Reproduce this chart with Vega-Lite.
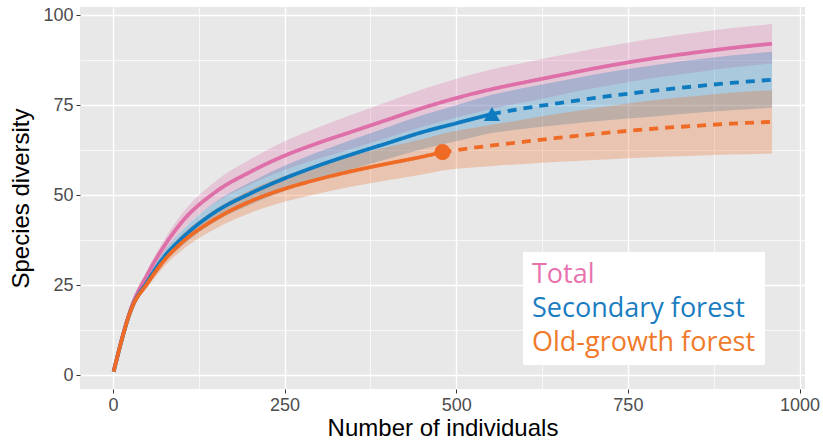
{
  "$schema": "https://vega.github.io/schema/vega-lite/v6.json",
  "width": 725,
  "height": 382,
  "autosize": {"type": "none"},
  "padding": {"left": 80, "top": 7, "right": 18, "bottom": 53},
  "background": "white",
  "config": {
    "view": {"fill": "#E8E8E8", "stroke": null},
    "font": "Liberation Sans",
    "legend": {"labelFont": "Open Sans"}
  },
  "datasets": {
    "curves": [
      {"g": "Total", "m": "obs", "x": 1, "y": 1.2, "lo": 1.2, "hi": 1.2},
      {"g": "Total", "m": "obs", "x": 27, "y": 19, "lo": 18.4, "hi": 19.6},
      {"g": "Total", "m": "obs", "x": 50, "y": 28, "lo": 26.8, "hi": 29.2},
      {"g": "Total", "m": "obs", "x": 75, "y": 36, "lo": 34.2, "hi": 37.8},
      {"g": "Total", "m": "obs", "x": 100, "y": 42.5, "lo": 40.2, "hi": 44.8},
      {"g": "Total", "m": "obs", "x": 150, "y": 51, "lo": 48, "hi": 54},
      {"g": "Total", "m": "obs", "x": 200, "y": 56.5, "lo": 53, "hi": 60},
      {"g": "Total", "m": "obs", "x": 250, "y": 61, "lo": 57, "hi": 65},
      {"g": "Total", "m": "obs", "x": 300, "y": 64.6, "lo": 60.2, "hi": 69},
      {"g": "Total", "m": "obs", "x": 350, "y": 67.8, "lo": 63.1, "hi": 72.5},
      {"g": "Total", "m": "obs", "x": 400, "y": 71, "lo": 66, "hi": 76},
      {"g": "Total", "m": "obs", "x": 450, "y": 74.2, "lo": 69, "hi": 79.4},
      {"g": "Total", "m": "obs", "x": 500, "y": 77, "lo": 71.6, "hi": 82.4},
      {"g": "Total", "m": "obs", "x": 550, "y": 79.4, "lo": 73.9, "hi": 84.9},
      {"g": "Total", "m": "obs", "x": 600, "y": 81.4, "lo": 75.9, "hi": 86.9},
      {"g": "Total", "m": "obs", "x": 650, "y": 83.3, "lo": 77.8, "hi": 88.8},
      {"g": "Total", "m": "obs", "x": 700, "y": 85.2, "lo": 79.7, "hi": 90.7},
      {"g": "Total", "m": "obs", "x": 750, "y": 86.9, "lo": 81.4, "hi": 92.4},
      {"g": "Total", "m": "obs", "x": 800, "y": 88.4, "lo": 82.9, "hi": 93.9},
      {"g": "Total", "m": "obs", "x": 850, "y": 89.7, "lo": 84.2, "hi": 95.2},
      {"g": "Total", "m": "obs", "x": 900, "y": 90.9, "lo": 85.4, "hi": 96.4},
      {"g": "Total", "m": "obs", "x": 960, "y": 92.1, "lo": 86.6, "hi": 97.6},

      {"g": "Secondary forest", "m": "obs", "x": 1, "y": 1, "lo": 1, "hi": 1},
      {"g": "Secondary forest", "m": "obs", "x": 27, "y": 18.5, "lo": 17.9, "hi": 19.1},
      {"g": "Secondary forest", "m": "obs", "x": 50, "y": 26, "lo": 24.8, "hi": 27.2},
      {"g": "Secondary forest", "m": "obs", "x": 75, "y": 33, "lo": 31.3, "hi": 34.7},
      {"g": "Secondary forest", "m": "obs", "x": 100, "y": 38, "lo": 35.9, "hi": 40.1},
      {"g": "Secondary forest", "m": "obs", "x": 150, "y": 45.5, "lo": 42.8, "hi": 48.2},
      {"g": "Secondary forest", "m": "obs", "x": 200, "y": 50.5, "lo": 47.4, "hi": 53.6},
      {"g": "Secondary forest", "m": "obs", "x": 250, "y": 54.7, "lo": 51.2, "hi": 58.2},
      {"g": "Secondary forest", "m": "obs", "x": 300, "y": 58.3, "lo": 54.5, "hi": 62.1},
      {"g": "Secondary forest", "m": "obs", "x": 350, "y": 61.5, "lo": 57.4, "hi": 65.6},
      {"g": "Secondary forest", "m": "obs", "x": 400, "y": 64.5, "lo": 60.1, "hi": 68.9},
      {"g": "Secondary forest", "m": "obs", "x": 450, "y": 67.5, "lo": 62.8, "hi": 72.2},
      {"g": "Secondary forest", "m": "obs", "x": 500, "y": 70, "lo": 65, "hi": 75},
      {"g": "Secondary forest", "m": "obs", "x": 552, "y": 72.6, "lo": 67.3, "hi": 77.9},
      {"g": "Secondary forest", "m": "ext", "x": 552, "y": 72.6, "lo": 67.3, "hi": 77.9},
      {"g": "Secondary forest", "m": "ext", "x": 600, "y": 74.2, "lo": 68.5, "hi": 79.9},
      {"g": "Secondary forest", "m": "ext", "x": 650, "y": 75.6, "lo": 69.5, "hi": 81.7},
      {"g": "Secondary forest", "m": "ext", "x": 700, "y": 77, "lo": 70.5, "hi": 83.5},
      {"g": "Secondary forest", "m": "ext", "x": 750, "y": 78.2, "lo": 71.3, "hi": 85.1},
      {"g": "Secondary forest", "m": "ext", "x": 800, "y": 79.3, "lo": 72.1, "hi": 86.5},
      {"g": "Secondary forest", "m": "ext", "x": 850, "y": 80.3, "lo": 72.9, "hi": 87.7},
      {"g": "Secondary forest", "m": "ext", "x": 900, "y": 81.2, "lo": 73.6, "hi": 88.8},
      {"g": "Secondary forest", "m": "ext", "x": 960, "y": 82.1, "lo": 74.3, "hi": 89.9},

      {"g": "Old-growth forest", "m": "obs", "x": 1, "y": 1, "lo": 1, "hi": 1},
      {"g": "Old-growth forest", "m": "obs", "x": 27, "y": 18.5, "lo": 17.9, "hi": 19.1},
      {"g": "Old-growth forest", "m": "obs", "x": 50, "y": 25.5, "lo": 24.3, "hi": 26.7},
      {"g": "Old-growth forest", "m": "obs", "x": 75, "y": 32, "lo": 30.3, "hi": 33.7},
      {"g": "Old-growth forest", "m": "obs", "x": 100, "y": 36.8, "lo": 34.7, "hi": 38.9},
      {"g": "Old-growth forest", "m": "obs", "x": 150, "y": 43.5, "lo": 40.8, "hi": 46.2},
      {"g": "Old-growth forest", "m": "obs", "x": 200, "y": 48.3, "lo": 45.1, "hi": 51.5},
      {"g": "Old-growth forest", "m": "obs", "x": 250, "y": 51.8, "lo": 48.2, "hi": 55.4},
      {"g": "Old-growth forest", "m": "obs", "x": 300, "y": 54.5, "lo": 50.5, "hi": 58.5},
      {"g": "Old-growth forest", "m": "obs", "x": 350, "y": 56.8, "lo": 52.5, "hi": 61.1},
      {"g": "Old-growth forest", "m": "obs", "x": 400, "y": 58.8, "lo": 54.2, "hi": 63.4},
      {"g": "Old-growth forest", "m": "obs", "x": 450, "y": 60.7, "lo": 55.8, "hi": 65.6},
      {"g": "Old-growth forest", "m": "obs", "x": 480, "y": 62, "lo": 56.9, "hi": 67.1},
      {"g": "Old-growth forest", "m": "ext", "x": 480, "y": 62, "lo": 56.9, "hi": 67.1},
      {"g": "Old-growth forest", "m": "ext", "x": 550, "y": 63.8, "lo": 58.1, "hi": 69.5},
      {"g": "Old-growth forest", "m": "ext", "x": 600, "y": 64.9, "lo": 58.7, "hi": 71.1},
      {"g": "Old-growth forest", "m": "ext", "x": 650, "y": 66, "lo": 59.3, "hi": 72.7},
      {"g": "Old-growth forest", "m": "ext", "x": 700, "y": 67, "lo": 59.8, "hi": 74.2},
      {"g": "Old-growth forest", "m": "ext", "x": 750, "y": 67.9, "lo": 60.3, "hi": 75.5},
      {"g": "Old-growth forest", "m": "ext", "x": 800, "y": 68.7, "lo": 60.7, "hi": 76.7},
      {"g": "Old-growth forest", "m": "ext", "x": 850, "y": 69.3, "lo": 61, "hi": 77.6},
      {"g": "Old-growth forest", "m": "ext", "x": 900, "y": 69.9, "lo": 61.3, "hi": 78.5},
      {"g": "Old-growth forest", "m": "ext", "x": 960, "y": 70.4, "lo": 61.6, "hi": 79.2}
    ],
    "ends": [
      {"g": "Secondary forest", "x": 552, "y": 72.6},
      {"g": "Old-growth forest", "x": 480, "y": 62}
    ]
  },
  "layer": [
    {
      "data": {"name": "curves"},
      "mark": {"type": "area", "opacity": 0.28, "interpolate": "monotone"},
      "encoding": {
        "x": {
          "field": "x", "type": "quantitative",
          "scale": {"domain": [-48, 1008], "nice": false, "zero": false},
          "axis": {
            "values": [0, 125, 250, 375, 500, 625, 750, 875, 1000],
            "title": "Number of individuals",
            "grid": true, "gridColor": "white",
            "gridWidth": {"condition": {"test": "datum.value % 250 === 0", "value": 1.4}, "value": 0.7},
            "tickOpacity": {"condition": {"test": "datum.value % 250 === 0", "value": 1}, "value": 0},
            "labelExpr": "datum.value % 250 === 0 ? format(datum.value, 'd') : ''",
            "domain": false, "tickColor": "#333333", "tickSize": 4, "tickWidth": 1,
            "labelColor": "#4D4D4D", "labelFontSize": 18, "labelPadding": 3, "labelFlush": false,
            "titleFontSize": 24, "titleColor": "black", "titleFontWeight": "normal", "titlePadding": 2
          }
        },
        "y": {
          "field": "lo", "type": "quantitative",
          "scale": {"domain": [-3.8, 102.3], "nice": false, "zero": false},
          "axis": {
            "values": [0, 12.5, 25, 37.5, 50, 62.5, 75, 87.5, 100],
            "title": "Species diversity",
            "grid": true, "gridColor": "white",
            "gridWidth": {"condition": {"test": "datum.value % 25 === 0", "value": 1.4}, "value": 0.7},
            "tickOpacity": {"condition": {"test": "datum.value % 25 === 0", "value": 1}, "value": 0},
            "labelExpr": "datum.value % 25 === 0 ? datum.label : ''",
            "domain": false, "tickColor": "#333333", "tickSize": 4, "tickWidth": 1,
            "labelColor": "#4D4D4D", "labelFontSize": 18, "labelPadding": 3,
            "titleFontSize": 24, "titleColor": "black", "titleFontWeight": "normal", "titlePadding": 9
          }
        },
        "y2": {"field": "hi"},
        "color": {
          "field": "g", "type": "nominal",
          "scale": {"domain": ["Total", "Secondary forest", "Old-growth forest"], "range": ["#DE6FA9", "#0E7BC0", "#EE6A25"]},
          "legend": {
            "title": null, "orient": "none", "legendX": 443, "legendY": 245,
            "fillColor": "white", "padding": 9,
            "labelFont": "Open Sans", "labelFontSize": 27, "labelLimit": 400,
            "symbolType": "circle", "symbolSize": 0.01, "symbolOpacity": 0, "symbolStrokeWidth": 0.01, "labelOffset": -27,
            "rowPadding": 6,
            "encode": {"labels": {"update": {"fill": {"signal": "datum.value === 'Total' ? '#E772AE' : datum.value === 'Secondary forest' ? '#1A7DC1' : '#F07A2A'"}}}}
          }
        }
      }
    },
    {
      "data": {"name": "curves"},
      "mark": {"type": "line", "strokeWidth": 3.8, "interpolate": "monotone"},
      "encoding": {
        "x": {"field": "x", "type": "quantitative"},
        "y": {"field": "y", "type": "quantitative"},
        "color": {"field": "g", "type": "nominal"},
        "strokeDash": {"field": "m", "type": "nominal", "scale": {"domain": ["obs", "ext"], "range": [[1, 0], [9, 7]]}, "legend": null}
      }
    },
    {
      "data": {"name": "ends"},
      "mark": {"type": "point", "filled": true, "opacity": 1, "size": 260},
      "encoding": {
        "x": {"field": "x", "type": "quantitative"},
        "y": {"field": "y", "type": "quantitative"},
        "color": {"field": "g", "type": "nominal"},
        "shape": {"field": "g", "type": "nominal", "scale": {"domain": ["Secondary forest", "Old-growth forest"], "range": ["triangle-up", "circle"]}, "legend": null}
      }
    }
  ]
}
